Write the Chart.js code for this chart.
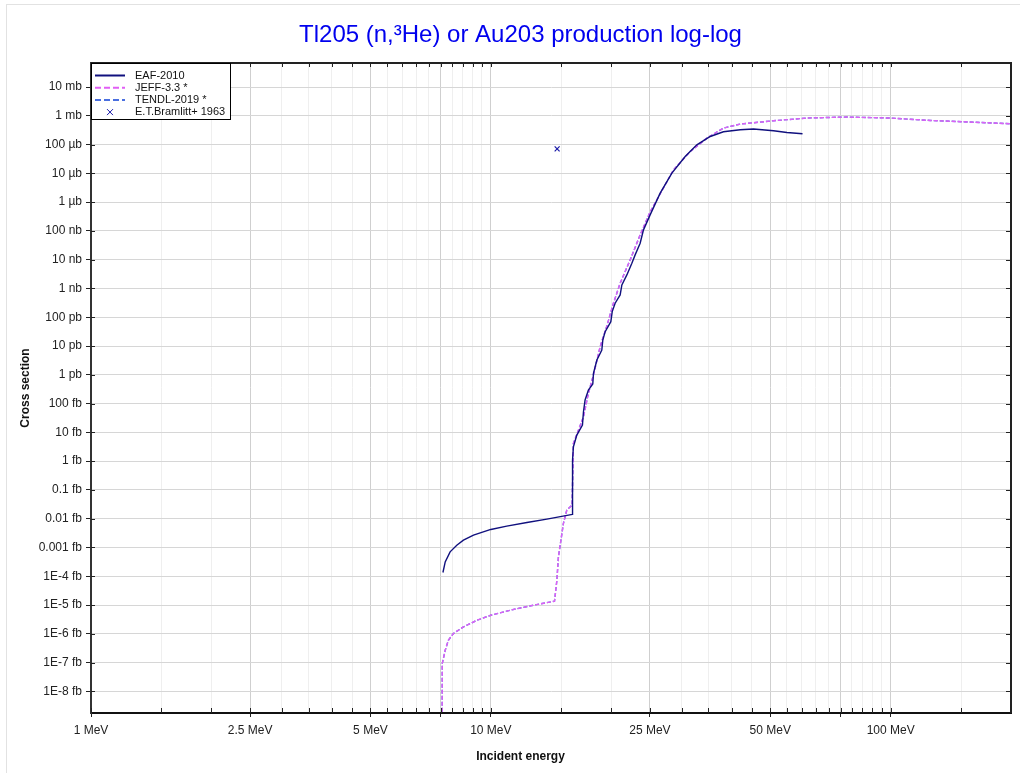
<!DOCTYPE html>
<html>
<head>
<meta charset="utf-8">
<title>Tl205 (n,3He) or Au203 production</title>
<script src="https://cdn.jsdelivr.net/npm/chart.js@4/dist/chart.umd.min.js"></script>
<style>
  html, body { margin: 0; padding: 0; background: #fff; }
  #wrap { width: 1020px; height: 773px; }
</style>
</head>
<body>
<div id="wrap"><canvas id="xs" width="1020" height="773"></canvas></div>
<script>
// energies in MeV, cross sections in barn
const seriesNames = ['EAF-2010', 'JEFF-3.3 *', 'TENDL-2019 *', 'E.T.Bramlitt+ 1963'];

const eafEnergy = [7.59, 7.69, 7.91, 8.22, 8.54, 9.05, 10.0, 10.96, 12.31, 13.81,
  16.0, 16.01, 16.09, 16.41, 16.95, 17.05, 17.21, 17.54, 17.99, 18.06,
  18.42, 18.95, 19.06, 19.32, 19.96, 20.12, 20.46, 21.06, 21.27, 21.89,
  22.53, 22.96, 23.63, 24.09, 25.03, 26.52, 28.37, 30.63, 32.76, 35.38,
  38.18, 42.05, 45.39, 50.94, 55.03, 60.2];
const eafXs = [1.35e-19, 3.16e-19, 7.03e-19, 1.20e-18, 1.79e-18, 2.68e-18, 4.23e-18, 5.51e-18, 7.41e-18, 9.64e-18,
  1.41e-17, 1.09e-15, 3.15e-15, 8.05e-15, 1.79e-14, 5.21e-14, 1.33e-13, 2.96e-13, 4.79e-13, 1.13e-12,
  3.27e-12, 7.29e-12, 1.62e-11, 3.16e-11, 7.03e-11, 1.57e-10, 3.07e-10, 5.97e-10, 1.33e-9, 2.96e-9,
  7.55e-9, 1.47e-8, 3.75e-8, 1.09e-7, 3.61e-7, 2.06e-6, 1.02e-5, 3.85e-5, 9.84e-5, 1.91e-4,
  2.79e-4, 3.27e-4, 3.46e-4, 3.02e-4, 2.64e-4, 2.38e-4];

const jeffEnergy = [7.55, 7.56, 7.69, 7.83, 8.06, 8.54, 9.23, 10.0, 11.17, 12.79,
  14.43, 14.63, 14.76, 15.06, 15.19, 15.49, 15.97, 16.09, 16.57, 17.05,
  17.54, 18.06, 18.77, 19.51, 20.26, 21.06, 22.31, 23.54, 25.03, 28.64,
  31.52, 34.71, 38.18, 42.05, 50.94, 61.74, 77.74, 99.8, 125.7, 152.2,
  199.2];
const jeffXs = [1e-26, 9.2e-23, 2.68e-22, 5.97e-22, 1.02e-21, 1.73e-21, 2.96e-21, 4.42e-21, 6.59e-21, 9.84e-21,
  1.36e-20, 7.29e-20, 4.71e-19, 3.07e-18, 6.84e-18, 1.98e-17, 2.96e-17, 4.14e-15, 1.20e-14, 3.49e-14,
  2.28e-13, 1.0e-12, 9.48e-12, 5.0e-11, 3.07e-10, 1.52e-9, 9.84e-9, 6.36e-8, 4.6e-7, 1.33e-5,
  5.75e-5, 1.68e-4, 3.75e-4, 5.16e-4, 6.73e-4, 8.36e-4, 9.06e-4, 8.36e-4, 6.89e-4, 6.21e-4,
  5.29e-4];

// TENDL-2019 lies under JEFF-3.3 everywhere in the plot
const tendlEnergy = jeffEnergy.slice();
const tendlXs = jeffXs.slice();

const bramlittEnergy = [14.65];
const bramlittXs = [7.1e-5];

const xTickValues = [1, 1.5, 2, 2.5, 3, 3.5, 4, 4.5, 5, 5.5, 6, 6.5, 7, 7.5, 8, 8.5, 9, 9.5,
  10, 15, 20, 25, 30, 35, 40, 45, 50, 55, 60, 65, 70, 75, 80, 85, 90, 95, 100, 150];
const xTickLabels = ['1 MeV', '', '', '2.5 MeV', '', '', '', '', '5 MeV', '', '', '', '', '', '', '', '', '',
  '10 MeV', '', '', '25 MeV', '', '', '', '', '50 MeV', '', '', '', '', '', '', '', '', '', '100 MeV', ''];
const xMajorTicks = [1, 2.5, 5, 7.5, 10, 25, 50, 75, 100];

const yTickValues = [1e-23, 1e-22, 1e-21, 1e-20, 1e-19, 1e-18, 1e-17, 1e-16, 1e-15, 1e-14, 1e-13,
  1e-12, 1e-11, 1e-10, 1e-9, 1e-8, 1e-7, 1e-6, 1e-5, 1e-4, 1e-3, 1e-2];
const yTickLabels = ['1E-8 fb', '1E-7 fb', '1E-6 fb', '1E-5 fb', '1E-4 fb', '0.001 fb', '0.01 fb', '0.1 fb',
  '1 fb', '10 fb', '100 fb', '1 pb', '10 pb', '100 pb', '1 nb', '10 nb', '100 nb', '1 µb', '10 µb',
  '100 µb', '1 mb', '10 mb'];

const EAF_COLOR = '#10107e';
const JEFF_COLOR = 'rgb(225, 95, 245)';
const TENDL_COLOR = '#4a6fe0';
const EXP_COLOR = '#1a1aa8';
const FONT = "'Liberation Sans', Arial, sans-serif";

const toPoints = (xs, ys) => xs.map((x, i) => ({ x, y: ys[i] }));
const isMajor = (v) => xMajorTicks.some((m) => Math.abs(m - v) < 1e-9);

Chart.defaults.font.family = FONT;
Chart.defaults.color = '#222';

// frame, inner ticks and boxed legend
const framePlugin = {
  id: 'frame',
  beforeDraw(chart) {
    const { ctx, width, height } = chart;
    ctx.save();
    ctx.fillStyle = '#fff';
    ctx.fillRect(0, 0, width, height);
    ctx.strokeStyle = '#e2e2e2';
    ctx.lineWidth = 1;
    ctx.strokeRect(6.5, 4.5, width, height);
    ctx.restore();
  },
  afterDraw(chart) {
    const { ctx, chartArea: a, scales } = chart;
    ctx.save();
    ctx.strokeStyle = '#222';
    ctx.lineWidth = 2;
    ctx.beginPath();
    ctx.moveTo(a.left, a.top);
    ctx.lineTo(a.right, a.top);
    ctx.lineTo(a.right, a.bottom);
    ctx.stroke();

    ctx.lineWidth = 1;
    ctx.beginPath();
    scales.x.ticks.forEach((t) => {
      const px = Math.round(scales.x.getPixelForValue(t.value)) + 0.5;
      ctx.moveTo(px, a.bottom);
      ctx.lineTo(px, a.bottom - 5);
      ctx.moveTo(px, a.top);
      ctx.lineTo(px, a.top + 4);
    });
    scales.y.ticks.forEach((t) => {
      const py = Math.round(scales.y.getPixelForValue(t.value)) + 0.5;
      ctx.moveTo(a.left, py);
      ctx.lineTo(a.left + 4, py);
      ctx.moveTo(a.right, py);
      ctx.lineTo(a.right - 5, py);
    });
    ctx.stroke();

    // legend
    const x0 = a.left, y0 = a.top;
    ctx.fillStyle = '#fff';
    ctx.fillRect(x0, y0, 139, 56);
    ctx.strokeStyle = '#000';
    ctx.lineWidth = 1;
    ctx.strokeRect(x0 + 0.5, y0 + 0.5, 139, 56);
    ctx.font = '11px ' + FONT;
    ctx.textBaseline = 'middle';
    chart.data.datasets.forEach((ds, i) => {
      const y = y0 + 12.5 + i * 12.2;
      ctx.strokeStyle = ds.borderColor;
      if (ds.showLine === false) {
        ctx.lineWidth = 1;
        ctx.setLineDash([]);
        ctx.beginPath();
        ctx.moveTo(x0 + 16, y - 3);
        ctx.lineTo(x0 + 22, y + 3);
        ctx.moveTo(x0 + 22, y - 3);
        ctx.lineTo(x0 + 16, y + 3);
        ctx.stroke();
      } else {
        ctx.lineWidth = 2;
        ctx.setLineDash(ds.borderDash && ds.borderDash.length ? [6, 3] : []);
        ctx.beginPath();
        ctx.moveTo(x0 + 4, y);
        ctx.lineTo(x0 + 34, y);
        ctx.stroke();
      }
      ctx.setLineDash([]);
      ctx.fillStyle = '#111';
      ctx.fillText(ds.label, x0 + 44, y);
    });
    ctx.restore();
  },
};

new Chart(document.getElementById('xs'), {
  type: 'line',
  data: {
    datasets: [
      {
        label: seriesNames[0],
        data: toPoints(eafEnergy, eafXs),
        borderColor: EAF_COLOR,
        borderWidth: 1.4,
        pointRadius: 0,
      },
      {
        label: seriesNames[1],
        data: toPoints(jeffEnergy, jeffXs),
        borderColor: JEFF_COLOR,
        borderWidth: 1.4,
        borderDash: [4, 2],
        pointRadius: 0,
      },
      {
        label: seriesNames[2],
        data: toPoints(tendlEnergy, tendlXs),
        borderColor: TENDL_COLOR,
        borderWidth: 1.4,
        borderDash: [4, 2],
        pointRadius: 0,
      },
      {
        label: seriesNames[3],
        data: toPoints(bramlittEnergy, bramlittXs),
        borderColor: EXP_COLOR,
        showLine: false,
        pointStyle: 'crossRot',
        pointRadius: 3.5,
        pointBorderWidth: 1.2,
        pointBorderColor: EXP_COLOR,
      },
    ],
  },
  options: {
    responsive: false,
    animation: false,
    layout: { padding: { left: 30, right: 9, top: 0, bottom: 0 } },
    plugins: {
      legend: { display: false },
      tooltip: { enabled: false },
      title: {
        display: true,
        text: 'Tl205 (n,³He) or Au203 production log-log',
        color: '#0000ee',
        font: { family: FONT, size: 24, weight: 'normal' },
        padding: { top: 21, bottom: 13.2 },
      },
      subtitle: {
        display: true,
        position: 'bottom',
        text: 'Incident energy',
        color: '#111',
        font: { family: FONT, size: 12, weight: 'bold' },
        padding: { top: 0, bottom: 9 },
      },
    },
    scales: {
      x: {
        type: 'logarithmic',
        min: 1,
        max: 200,
        afterBuildTicks: (scale) => {
          scale.ticks = xTickValues.map((v) => ({ value: v }));
        },
        afterFit: (scale) => { scale.height = 36.6; },
        ticks: {
          autoSkip: false,
          maxRotation: 0,
          minRotation: 0,
          padding: 6,
          color: '#222',
          font: { family: FONT, size: 12 },
          callback: (v, i) => xTickLabels[i],
        },
        grid: {
          color: (c) => (c.tick && isMajor(c.tick.value) ? '#cfcfcf' : '#efefef'),
          lineWidth: 1,
          tickLength: 4,
          tickColor: (c) => (c.tick && isMajor(c.tick.value) ? '#222' : 'rgba(0,0,0,0)'),
        },
        border: { color: '#111', width: 2 },
      },
      y: {
        type: 'logarithmic',
        min: 1.77e-24,
        max: 6.84e-2,
        afterBuildTicks: (scale) => {
          scale.ticks = yTickValues.map((v) => ({ value: v }));
        },
        afterFit: (scale) => { scale.width = 61; },
        ticks: {
          autoSkip: false,
          padding: 4,
          color: '#222',
          font: { family: FONT, size: 12 },
          callback: (v, i) => yTickLabels[i],
        },
        grid: {
          color: '#d6d6d6',
          lineWidth: 1,
          tickLength: 5,
          tickColor: '#222',
        },
        border: { color: '#333', width: 2 },
        title: {
          display: true,
          text: 'Cross section',
          color: '#111',
          font: { family: FONT, size: 12, weight: 'bold' },
          padding: { top: -12, bottom: 0 },
        },
      },
    },
  },
  plugins: [framePlugin],
});
</script>
</body>
</html>
